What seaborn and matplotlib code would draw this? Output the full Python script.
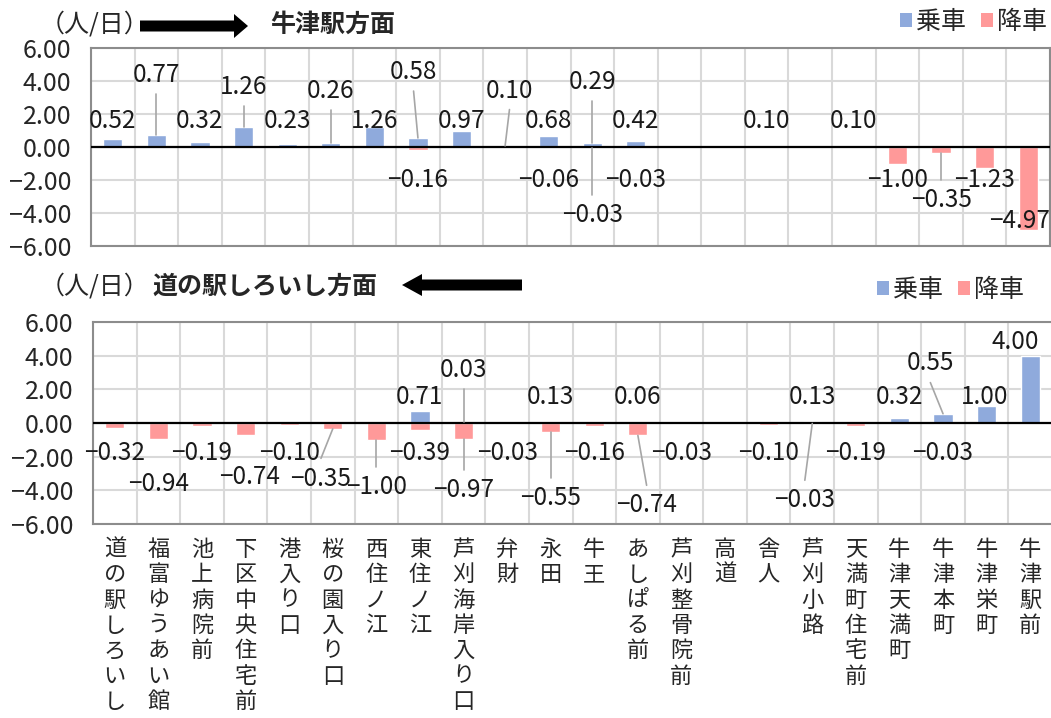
import numpy as np
import pandas as pd
import matplotlib
matplotlib.use("Agg")
import matplotlib.pyplot as plt
import seaborn as sns
from matplotlib.patches import Patch, Polygon

# ---------------- data ----------------
stations = ["道の駅しろいし", "福富ゆうあい館", "池上病院前", "下区中央住宅前", "港入り口",
            "桜の園入り口", "西住ノ江", "東住ノ江", "芦刈海岸入り口", "弁財", "永田", "牛王",
            "あしぱる前", "芦刈整骨院前", "高道", "舎人", "芦刈小路", "天満町住宅前",
            "牛津天満町", "牛津本町", "牛津栄町", "牛津駅前"]
N = None
# 牛津駅方面
up_board = [0.52, 0.77, 0.32, 1.26, 0.23, 0.26, 1.26, 0.58, 0.97, 0.10, 0.68, 0.29, 0.42,
            N, N, 0.10, N, 0.10, N, N, N, N]
up_alight = [N, N, N, N, N, N, N, -0.16, N, N, -0.06, -0.03, -0.03, N, N, N, N, N,
             -1.00, -0.35, -1.23, -4.97]
# 道の駅しろいし方面
down_board = [N, N, N, N, N, N, N, 0.71, 0.03, N, 0.13, N, 0.06, N, N, N, 0.13, N,
              0.32, 0.55, 1.00, 4.00]
down_alight = [-0.32, -0.94, -0.19, -0.74, -0.10, -0.35, -1.00, -0.39, -0.97, -0.03, -0.55,
               -0.16, -0.74, -0.03, N, -0.10, -0.03, -0.19, N, -0.03, N, N]
y_ticks = [-6, -4, -2, 0, 2, 4, 6]
legend_labels = ["乗車", "降車"]

# ---------------- label layout (station: (dx, label y, leader)) ----------------
up_board_lab = {0: (0, 1.6, False), 1: (0, 4.4, True), 2: (0, 1.6, False), 3: (0, 3.65, True),
                4: (0, 1.6, False), 5: (0, 3.45, True), 6: (0, 1.6, False), 7: (-0.1, 4.57, True),
                8: (0, 1.6, False), 9: (0.1, 3.45, True), 10: (0, 1.6, False), 11: (0, 3.96, True),
                12: (0, 1.6, False), 15: (0, 1.6, False), 17: (0, 1.6, False)}
up_alight_lab = {7: (0, -1.95, False), 10: (0, -1.95, False), 11: (0, -4.08, True),
                 12: (0, -1.95, False), 18: (0, -1.95, False), 19: (0, -3.2, True),
                 20: (0, -1.95, False), 21: (-0.2, -4.44, False)}
down_board_lab = {7: (0, 1.57, False), 8: (0, 3.15, True), 10: (0, 1.57, False),
                  12: (0, 1.57, False), 16: (0, 1.57, False), 18: (0, 1.57, False),
                  19: (-0.29, 3.55, True), 20: (-0.05, 1.57, False), 21: (-0.35, 4.84, False)}
down_alight_lab = {0: (0, -1.8, False), 1: (0, -3.6, False), 2: (0, -1.8, False),
                   3: (0.1, -3.2, False), 4: (0, -1.8, False), 5: (-0.27, -3.3, True),
                   6: (0, -3.8, True), 7: (0, -1.8, False), 8: (0, -4.0, True),
                   9: (0, -1.8, False), 10: (0, -4.46, True), 11: (0, -1.8, False),
                   12: (0.2, -4.9, True), 13: (0, -1.8, False), 15: (0, -1.8, False),
                   16: (-0.17, -4.6, True), 17: (0, -1.8, False), 19: (0, -1.8, False)}

BLUE = "#8FAADC"
RED = "#FF9999"
W, H = 1051, 718

sns.set_style("white")
plt.rcParams['font.family'] = ['Noto Sans CJK JP', 'DejaVu Sans']
plt.rcParams['axes.unicode_minus'] = True

fig = plt.figure(figsize=(W / 100, H / 100), dpi=100)


def px_axes(left, top, right, bottom):
    return fig.add_axes([left / W, 1 - bottom / H, (right - left) / W, (bottom - top) / H])


def fmt(v):
    s = f"{v:.2f}"
    return s.replace("-", "\u2212")


def draw_panel(ax, board, alight, board_lab, alight_lab, show_x):
    for vals, color in ((board, BLUE), (alight, RED)):
        df = pd.DataFrame({"st": stations,
                           "v": [np.nan if v is None else v for v in vals]})
        df = df.dropna()
        sns.barplot(data=df, x="st", y="v", order=stations, color=color, saturation=1,
                    width=0.44, ax=ax, errorbar=None, zorder=2)
    ax.set_xlim(-0.5, len(stations) - 0.5)
    ax.set_ylim(-6, 6)
    ax.set_xlabel("")
    ax.set_ylabel("")
    ax.set_yticks(y_ticks)
    ax.set_yticklabels([fmt(t) for t in y_ticks], fontsize=18)
    ax.set_xticks(np.arange(-0.5, len(stations), 1), minor=True)
    ax.grid(False)
    ax.yaxis.grid(True, color="#d9d9d9", lw=1.5, zorder=0)
    ax.xaxis.grid(True, which="minor", color="#d9d9d9", lw=1.5, zorder=0)
    ax.set_axisbelow(True)
    ax.axhline(0, color="black", lw=1.6, zorder=3)
    for s in ax.spines.values():
        s.set_color("#8c8c8c")
        s.set_linewidth(1.5)
        s.set_visible(True)
    ax.tick_params(axis="both", which="both", length=0)
    ax.tick_params(axis="y", pad=14)
    if show_x:
        ax.set_xticks(range(len(stations)))
        ax.set_xticklabels(["\n".join(s) for s in stations], fontsize=16, va="top",
                           linespacing=1.13)
        ax.tick_params(axis="x", pad=10)
    else:
        ax.tick_params(axis="x", labelbottom=False)

    for vals, lab in ((board, board_lab), (alight, alight_lab)):
        for i, (dx, ly, leader) in lab.items():
            v = vals[i]
            lx = i + dx
            ax.text(lx, ly, fmt(v), ha="center", va="center", fontsize=17.5, zorder=5,
                    color="#1a1a1a")
            if leader:
                gap = 1.15 if ly > 0 else 1.2
                y0 = ly - gap if ly > 0 else ly + gap
                ax.plot([lx, i], [y0, v], color="#a6a6a6", lw=1.2, zorder=4)


ax1 = px_axes(91, 48.5, 1050, 246.5)
draw_panel(ax1, up_board, up_alight, up_board_lab, up_alight_lab, False)
ax2 = px_axes(93, 322, 1052, 524)
draw_panel(ax2, down_board, down_alight, down_board_lab, down_alight_lab, True)


def arrow(x_tail, x_head, yc, shaft=11, head_h=24, head_l=14):
    d = 1 if x_head > x_tail else -1
    xb = x_head - d * head_l
    pts = [(x_tail, yc - shaft / 2), (xb, yc - shaft / 2), (xb, yc - head_h / 2),
           (x_head, yc), (xb, yc + head_h / 2), (xb, yc + shaft / 2), (x_tail, yc + shaft / 2)]
    fig.patches.append(Polygon([(x / W, 1 - y / H) for x, y in pts], closed=True,
                               transform=fig.transFigure, facecolor="black",
                               edgecolor="black", lw=0))


# titles
fig.text(40 / W, 1 - 25 / H, "（人/日）", fontsize=18, ha="left", va="center")
arrow(140, 248, 26)
fig.text(270 / W, 1 - 25 / H, "牛津駅方面", fontsize=18, fontweight="bold",
         ha="left", va="center")

fig.text(40 / W, 1 - 287 / H, "（人/日）", fontsize=18, ha="left", va="center")
fig.text(152 / W, 1 - 287 / H, "道の駅しろいし方面", fontsize=18, fontweight="bold",
         ha="left", va="center")
arrow(522, 402, 285, shaft=11, head_h=22, head_l=20)

handles = [Patch(facecolor=BLUE, edgecolor="none"), Patch(facecolor=RED, edgecolor="none")]
for yc, xr in ((22, 1047), (290, 1024)):
    fig.legend(handles, legend_labels, loc="center right",
               bbox_to_anchor=(xr / W, 1 - yc / H), ncol=2, frameon=False, fontsize=18,
               handlelength=0.5, handleheight=0.5, handletextpad=0.15,
               columnspacing=0.6, borderpad=0, borderaxespad=0)

fig.savefig("out.png", dpi=100)
